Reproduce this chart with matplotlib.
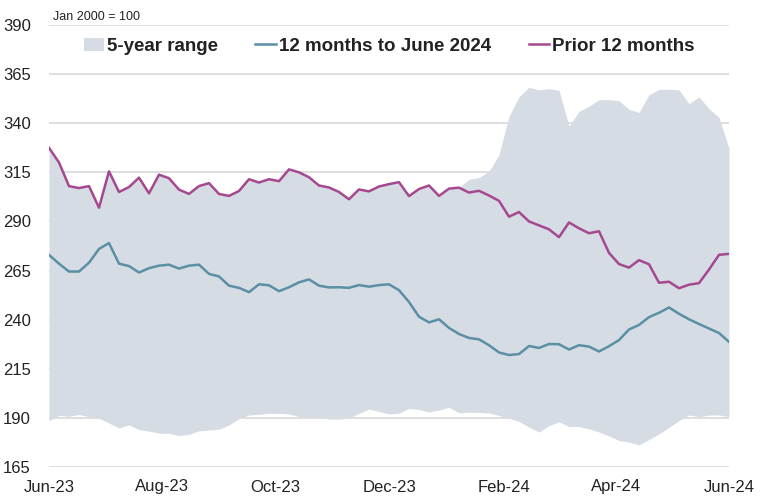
import matplotlib
matplotlib.use("Agg")
import matplotlib.pyplot as plt
import matplotlib.dates as mdates
import pandas as pd

plt.rcParams['font.family'] = ['Liberation Sans', 'DejaVu Sans']

# index, Jan 2000 = 100, sampled evenly from Jun-23 to Jun-24
start, end = "2023-06-01", "2024-06-01"

recent = [273, 268.5, 264.5, 264.5, 269, 276, 279, 268.5, 267.3, 264,
          266.2, 267.5, 268, 266, 267.5, 268, 263.3, 262, 257.3, 256.2,
          254, 258, 257.5, 254.5, 256.5, 259, 260.5, 257.3, 256.4, 256.5,
          256.2, 257.6, 256.8, 257.6, 258, 255, 249, 241.5, 238.6, 240.2,
          235.8, 232.7, 230.7, 230, 227, 223.3, 222, 222.5, 226.6, 225.6,
          227.6, 227.5, 224.8, 227, 226.3, 223.8, 226.5, 229.6, 235, 237.3,
          241.3, 243.5, 246.2, 243, 240.2, 237.8, 235.5, 233.2, 228.7]

prior = [327.5, 320, 308, 307, 308, 297, 315.5, 305, 307.5, 312.3,
         304.3, 313.8, 312, 306.2, 304, 308, 309.5, 304, 303, 305.5,
         311.5, 309.8, 311.5, 310.5, 316.5, 315, 312.5, 308.3, 307.3, 305,
         301.3, 306.3, 305.3, 307.8, 309, 310, 302.9, 306.5, 308.3, 303,
         306.7, 307.2, 304.7, 305.6, 303.2, 300.5, 292.4, 294.8, 290, 288,
         286, 282, 289.5, 286.5, 284, 285, 274, 268.3, 266.5, 270.3,
         268.2, 258.8, 259.3, 256, 257.8, 258.6, 265.5, 273, 273.5]

range_high = prior[:42] + [311.5, 312.3, 315.5, 324, 343.5, 353.5, 358.3, 357, 357.6,
                           356.7, 338.5, 346, 348.7, 352, 352, 351.5, 347, 345.5,
                           354.5, 357.2, 357.3, 357, 350, 353.4, 347.3, 343, 327]

range_low = [188.5, 191.3, 190.8, 191.7, 190.6, 189.8, 187.4, 184.8, 186.5, 184,
             183.3, 182.2, 182.1, 181, 181.6, 183.4, 183.8, 184.2, 186.4, 189.5,
             191.5, 191.8, 192.3, 192.3, 192, 190.7, 190.6, 190.4, 189.4, 189.3,
             189.9, 192.3, 194.5, 193.2, 192, 192.4, 194.8, 194.3, 193, 194,
             195.5, 192.6, 192.9, 192.8, 192.5, 191.2, 189.8, 188.2, 185.3, 182.8,
             186, 188, 185.6, 185.6, 184.4, 182.8, 180.8, 178.5, 177.6, 176.3,
             179, 181.8, 185.2, 188.6, 191.5, 190.6, 191.4, 191.5, 190.6]

dates = pd.date_range(start, end, periods=len(recent))

fig = plt.figure(figsize=(7.62, 5.0), dpi=100)
ax = fig.add_axes([0.0643, 0.066, 0.8924, 0.884])

ax.fill_between(dates, range_low, range_high, color="#d6dce4", lw=0,
                label="5-year range", zorder=2)
ax.plot(dates, recent, color="#5b8fa5", lw=1.8, label="12 months to June 2024", zorder=3)
ax.plot(dates, prior, color="#a5488f", lw=1.8, label="Prior 12 months", zorder=3)

ax.set_ylim(165, 390)
ax.set_yticks(range(165, 391, 25))
ax.set_xlim(pd.Timestamp(start), pd.Timestamp(end))
ax.xaxis.set_major_locator(mdates.MonthLocator(bymonth=[2, 4, 6, 8, 10, 12]))
ax.xaxis.set_major_formatter(mdates.DateFormatter("%b-%y"))

ax.grid(axis="y", color="#d4d4d4", lw=1.1, zorder=0)
ax.set_axisbelow(True)
for s in ax.spines.values():
    s.set_visible(False)
ax.tick_params(axis="both", length=0, labelsize=12, colors="#222222")
ax.tick_params(axis="y", pad=13)
ax.tick_params(axis="x", pad=9)

ax.text(0.006, 1.005, "Jan 2000 = 100", transform=ax.transAxes, fontsize=9,
        va="bottom", ha="left", color="#222222")

leg = ax.legend(loc="center", bbox_to_anchor=(0.5, 0.952), ncol=3, frameon=False,
                handlelength=1.1, handletextpad=0.15, columnspacing=2.0,
                prop={"size": 13.5, "weight": "bold"})
for t in leg.get_texts():
    t.set_color("#222222")

fig.savefig("out.png", dpi=100)
